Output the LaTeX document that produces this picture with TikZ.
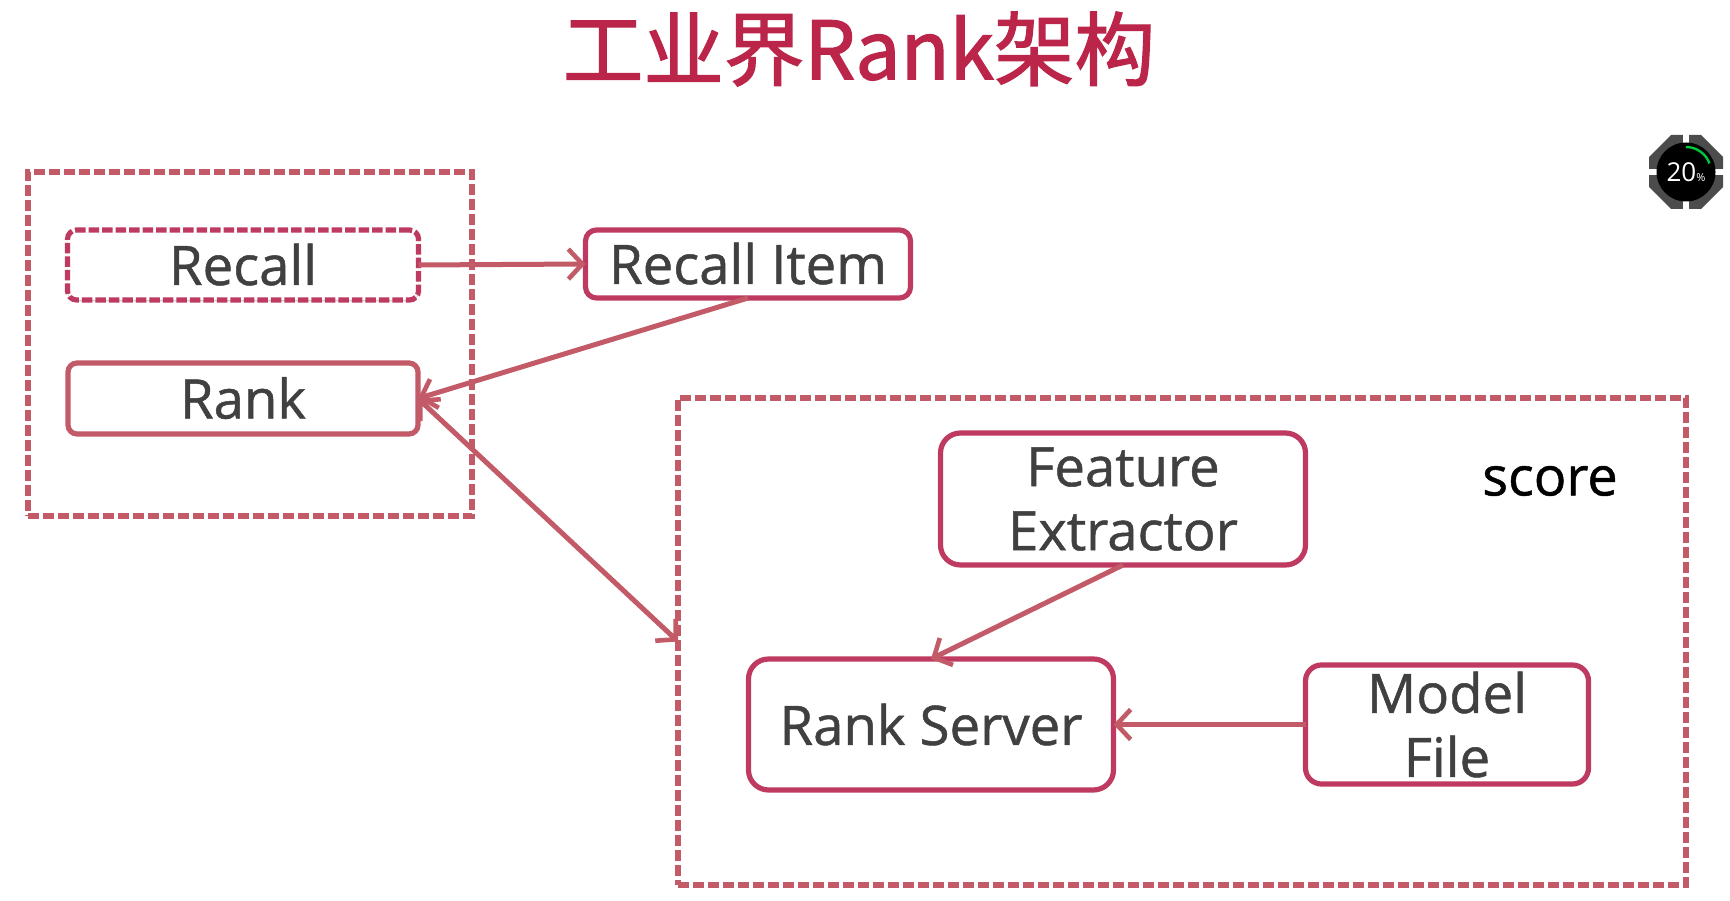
\documentclass[tikz,border=0pt]{standalone}
\usepackage{fontspec}
\setmainfont[FakeBold=0.9]{Open Sans}
\newfontfamily\cjk[FakeBold=1.6]{Noto Sans CJK SC}
\newfontfamily\scorefont{Open Sans}
\usetikzlibrary{arrows.meta,shadows,shapes.geometric}
\definecolor{rosea}{HTML}{C25A68}
\definecolor{roseb}{HTML}{BE3A60}
\definecolor{titlec}{HTML}{BA2549}
\definecolor{textc}{HTML}{404040}
\tikzset{
  outerbox/.style={draw=rosea,line width=5.2pt,dash pattern=on 10.6pt off 4.4pt,inner sep=0pt,outer sep=0pt},
  softshadow/.style={drop shadow={shadow xshift=0pt,shadow yshift=-1.5pt,opacity=.2,fill=black}},
  itembox/.style={draw=roseb,line width=5.2pt,rounded corners=11pt,fill=white,text=textc,font=\fontsize{54.5}{64}\selectfont,align=center,inner sep=0pt,outer sep=0pt,softshadow},
  plainbox/.style={itembox,draw=rosea,rounded corners=9pt},
  dashbox/.style={itembox,rounded corners=9pt,dash pattern=on 10.5pt off 3pt},
  link/.style={draw=rosea,line width=5pt,-{Straight Barb[length=14pt,width=30pt,line width=4.6pt]}},
  twolink/.style={draw=rosea,line width=5pt,{Straight Barb[length=14pt,width=30pt,line width=4.6pt]}-{Straight Barb[length=14pt,width=30pt,line width=4.6pt]}},
}
\begin{document}
\begin{tikzpicture}[x=1pt,y=-1pt]
\useasboundingbox (0,0) rectangle (1730,901);
\node[text=titlec,font=\fontsize{80.5}{80}\selectfont\cjk] (title) at (859,49) {工业界Rank架构};
\node[outerbox,minimum width=444pt,minimum height=344pt] (left) at (250,344) {};
\node[outerbox,minimum width=1008pt,minimum height=487pt] (right) at (1182,641.5) {};
\node[dashbox,minimum width=351pt,minimum height=70pt,text height=40pt,text depth=0pt] (recall) at (243,265) {Recall};
\node[plainbox,minimum width=350pt,minimum height=71pt,text height=40pt,text depth=0pt] (rank) at (243,398.5) {Rank};
\node[itembox,minimum width=325pt,minimum height=68pt,text height=40pt,text depth=0pt] (item) at (748,264) {Recall Item};
\node[itembox,rounded corners=20pt,minimum width=365pt,minimum height=132pt] (feature) at (1123,499) {\raisebox{-3pt}{Feature}\\\raisebox{-3pt}{Extractor}};
\node[itembox,rounded corners=20pt,minimum width=365pt,minimum height=131pt] (server) at (931,724.5) {Rank Server};
\node[itembox,rounded corners=16pt,minimum width=283pt,minimum height=119pt] (model) at (1447,724.5) {Model\\File};
\node[text=black,font=\fontsize{54}{64}\selectfont] (score) at (1550,481) {score};
\draw[link] (recall.east) -- (item.west);
\draw[link] (item.south) -- (rank.east);
\draw[twolink] (rank.east) -- (right.west);
\draw[link] (feature.south) -- (server.north);
\draw[link] (model.west) -- (server.east);
% progress badge
\fill[gray!60!black] (1686,172) +(-37,-15) -- +(-15,-37) -- +(15,-37) -- +(37,-15) -- +(37,15) -- +(15,37) -- +(-15,37) -- +(-37,15) -- cycle;
\fill[white] (1683,133) rectangle (1689,145);
\fill[white] (1683,199) rectangle (1689,211);
\fill[white] (1647,169) rectangle (1659,175);
\fill[white] (1713,169) rectangle (1725,175);
\fill[black] (1686,172) circle (29.5);
\draw[green!55!teal,line width=2.4pt] (1686,147) arc[start angle=-90,end angle=-20,radius=25];
\node[text=white,inner sep=0pt,font=\scorefont\fontsize{26}{26}\selectfont] (badge) at (1686,172) {20{\fontsize{11}{11}\selectfont\%}};
\end{tikzpicture}
\end{document}
